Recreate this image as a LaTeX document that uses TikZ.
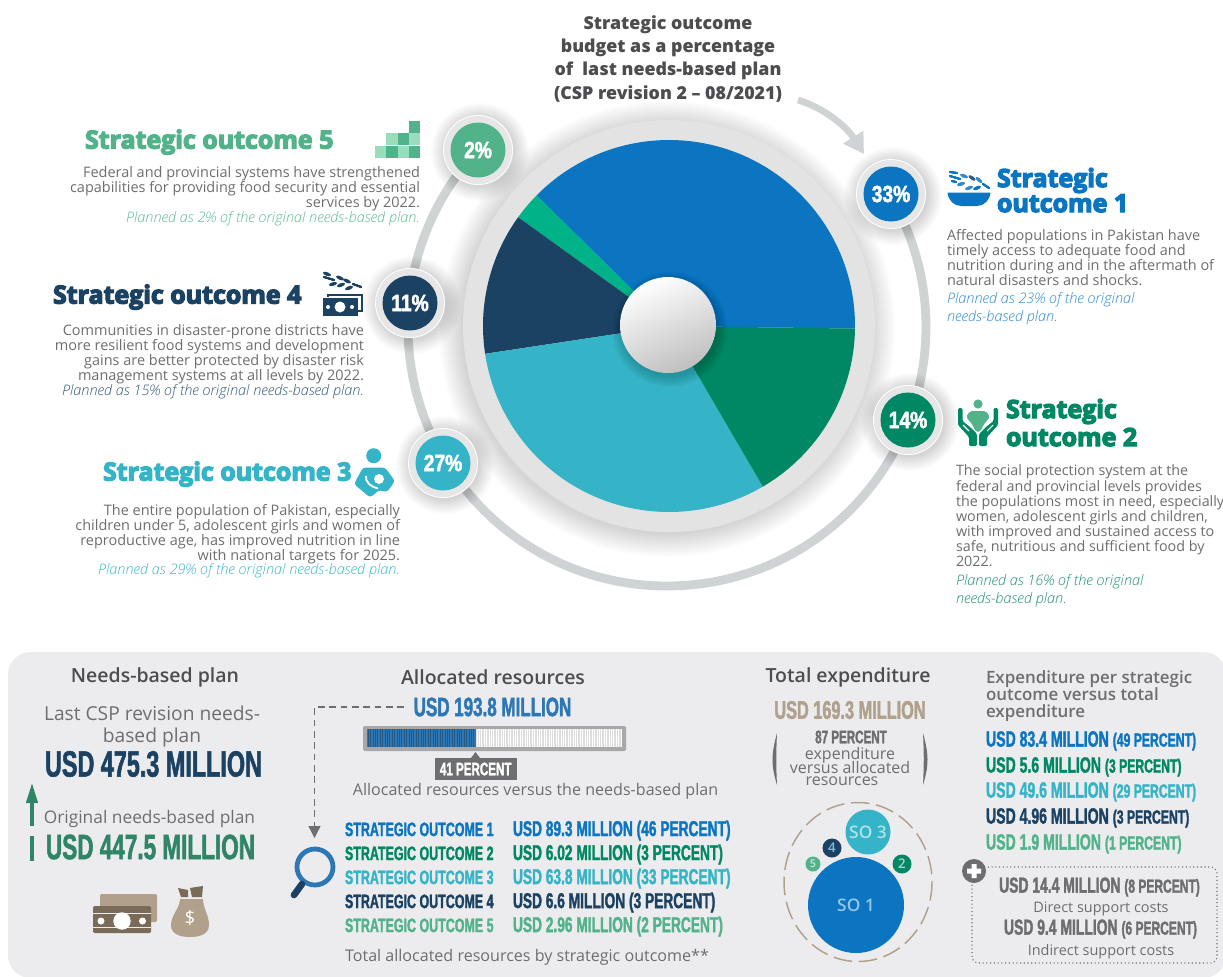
\documentclass[tikz,border=0pt]{standalone}
\usepackage{fontspec}
\usetikzlibrary{arrows.meta}
\setmainfont{Open Sans}
\newfontfamily\condf[FakeStretch=0.64,FakeBold=1.5]{Liberation Sans Bold}
\newfontfamily\pctf[FakeStretch=0.82,FakeBold=2]{Liberation Sans Bold}
\newfontfamily\heavyf[FakeBold=5]{Open Sans Bold}
\newfontfamily\semif{Open Sans Semibold}
\newfontfamily\lightf{Open Sans Light}
\definecolor{cA}{HTML}{0B75C2}
\definecolor{cB}{HTML}{008763}
\definecolor{cC}{HTML}{34B4C6}
\definecolor{cD}{HTML}{1B4263}
\definecolor{cE}{HTML}{52B38A}
\definecolor{cF}{HTML}{00B287}
\definecolor{cL}{HTML}{9BDCBC}
\definecolor{cAi}{HTML}{2E8BD0}
\definecolor{cBi}{HTML}{1F9273}
\definecolor{cCi}{HTML}{3DB8CA}
\definecolor{cDi}{HTML}{36597A}
\definecolor{cEi}{HTML}{5EBB93}
\definecolor{cM}{HTML}{2E77B5}
\definecolor{cG}{HTML}{6D6E70}
\definecolor{cH}{HTML}{4D4D4F}
\definecolor{cT}{HTML}{B0A08C}
\definecolor{cN}{HTML}{7A6A58}
\definecolor{cR}{HTML}{D0D3D3}
\definecolor{cP}{HTML}{ECECEF}
\definecolor{cQ}{HTML}{2F8566}
\definecolor{cV}{HTML}{E6E6E7}
\newcommand\cn[1]{\fontsize{#1}{#1}\selectfont\condf}
\newcommand\softshadow[4]{\foreach \i in {0,1,...,13}{\fill[black,opacity=0.013] (#1,#2) circle[radius={#3+#4*\i/13}];}}
\newcommand\pieslice[3]{\fill[#1] (669,326) -- ++(#2:139.5pt) arc[start angle=#2,end angle=#3,radius=139.5pt] -- cycle;}
\newcommand\grain[4]{\fill[#4,rotate around={#3:(#1,#2)}] (#1,#2) ellipse[x radius=4.2,y radius=1.8];}
\newcommand\badge[5]{% name x y colour text
  \softshadow{#2+2}{#3+2}{35}{14}
  \fill[cV] (#2,#3) circle[radius=35];
  \draw[white,line width=0.6pt] (#2,#3) circle[radius=34.5];
  \fill[#4] (#2,#3) circle[radius=27.5];
  \node[lbl,text=white,font=\fontsize{17.6}{18}\selectfont\pctf] (#1) at (#2,#3) {#5};}
\tikzset{
  lbl/.style={inner sep=0pt,outer sep=0pt},
  body/.style={lbl,text=cG,font=\fontsize{10.85}{11.35}\selectfont},
  plan/.style={lbl,font=\fontsize{10.85}{11.35}\selectfont\lightf\itshape},
  headtxt/.style={lbl,font=\fontsize{18.75}{18.8}\selectfont\heavyf},
  paneltitle/.style={lbl,text=cH,font=\fontsize{14.6}{16}\selectfont\semif},
  panelsub/.style={lbl,text=cG,font=\fontsize{12.06}{13}\selectfont},
  socol/.style={lbl,anchor=mid west},
}
\begin{document}
\begin{tikzpicture}[x=0.75pt,y=-0.75pt]
\useasboundingbox (0,0) rectangle (1223,976);
\fill[white] (0,0) rectangle (1223,976);
% ---- central pie
\draw[cR,line width=6.6pt] (667,327) ++(137:194.25pt) arc[start angle=137,end angle=390.7,radius=194.25pt];
\softshadow{667}{329}{206}{22}
\fill[black!11] (669,326) circle[radius=206];
\pieslice{cA}{-0.8}{135.4}
\pieslice{cF}{135.4}{144.2}
\pieslice{cD}{144.2}{188.6}
\pieslice{cC}{188.6}{300.3}
\pieslice{cB}{300.3}{359.2}
\softshadow{670}{329}{48}{10}
\shade[top color=white,bottom color=black!25,shading angle=25] (668,325) circle[radius=48];
% ---- badges
\badge{pE}{478}{150}{cE}{2\%}
\badge{pD}{410}{303}{cD}{11\%}
\badge{pC}{443}{463}{cC}{27\%}
\badge{pA}{891}{194}{cA}{33\%}
\badge{pB}{908}{420}{cB}{14\%}
% ---- title and arrow
\node[lbl,text=cH,align=center,font=\fontsize{13.35}{17.5}\selectfont\semif\bfseries] (title) at (668,58.5)
  {Strategic outcome\\budget as a percentage\\of\ \ last needs-based plan\\(CSP revision 2 – 08/2021)};
\coordinate (arS) at (798,100);
\coordinate (arE) at (864,154);
\draw[cR,line width=5pt,-{Triangle[width=17pt,length=15pt]}] (arS) .. controls (824,108) and (846,126) .. (arE);
% ---- SO5
\node[headtxt,text=cE,anchor=mid west] (h5) at (85,145) {Strategic outcome 5};
\node[body,align=right,anchor=north east] (b5) at (420,166) {Federal and provincial systems have strengthened\\capabilities for providing food security and essential\\services by 2022.};
\node[plan,text=cEi,anchor=mid east] (i5) at (420,219) {Planned as 2\% of the original needs-based plan.};
\foreach \px/\py/\pc in {408.75/121/cE,386.25/133/cL,397.5/133/cE,408.75/133/cL,375/146/cL,386.25/146/cE,397.5/146/cL,408.75/146/cE}
  \fill[\pc] (\px,\py) rectangle ++(11.25,12.4);
% ---- SO4
\node[headtxt,text=cD,anchor=mid west] (h4) at (53,300) {Strategic outcome 4};
\node[body,align=right,anchor=north east] (b4) at (364,324) {Communities in disaster-prone districts have\\more resilient food systems and development\\gains are better protected by disaster risk\\management systems at all levels by 2022.};
\node[plan,text=cDi,anchor=mid east] (i4) at (364,392) {Planned as 15\% of the original needs-based plan.};
\foreach \gx/\gy/\gr in {327/274/-20,340/278/-25,347/281/-25,333/284/15,341/285/20,349/288/20}
  \grain{\gx}{\gy}{\gr}{cD}
\draw[cD,line width=1.3pt,line cap=round] (324,277) -- (334,280) (353,284) -- (361,287);
\draw[cD,line width=1.1pt] (328,297) -- (328,295) -- (362,295) -- (362,311) -- (358,311);
\fill[cD] (323,298) rectangle (358,316);
\fill[white] (340,307) circle[radius=5.5] (328,307) circle[radius=2] (352,307) circle[radius=2];
% ---- SO3
\node[headtxt,text=cC,anchor=mid west] (h3) at (103,477) {Strategic outcome 3};
\node[body,align=right,anchor=north east] (b3) at (400,504) {The entire population of Pakistan, especially\\children under 5, adolescent girls and women of\\reproductive age, has improved nutrition in line\\with national targets for 2025.};
\node[plan,text=cCi,anchor=mid east] (i3) at (400,571) {Planned as 29\% of the original needs-based plan.};
\fill[cC] (373.7,455.7) circle[radius=7.5];
\fill[cC,rounded corners=2.2pt] (363,467.5) -- (385,467.5) -- (395,481) -- (387,492) -- (378,490) -- (376,493) -- (370,497.5) -- (354,484) -- cycle;
\fill[white] (379,479) circle[radius=5];
\draw[white,line width=1.4pt] (366,476) .. controls (365,482) and (371,487) .. (378,488.5);
% ---- SO1
\node[headtxt,text=cA,anchor=north west,align=left] (h1) at (997,168) {Strategic\\outcome 1};
\node[body,align=left,anchor=north west] (b1) at (947,229) {Affected populations in Pakistan have\\timely access to adequate food and\\nutrition during and in the aftermath of\\natural disasters and shocks.};
\node[plan,text=cAi,anchor=mid west] (i1a) at (947,300) {Planned as 23\% of the original};
\node[plan,text=cAi,anchor=mid west] (i1b) at (947,318) {needs-based plan.};
\fill[cA] (947.5,192.5) -- (990.5,192.5) .. controls (990,200) and (984,206) .. (977,206) -- (961,206) .. controls (954,206) and (948,200) .. (947.5,192.5) -- cycle;
\foreach \gx/\gy/\gr/\gc in {964/176/-20/cAi,972/178/-35/cDi,979/180/-40/cAi,961/184/15/cAi,969/188/20/cAi,977/188/20/cA}
  \grain{\gx}{\gy}{\gr}{\gc}
\draw[cA,line width=1.3pt,line cap=round] (950,172) -- (957,173) (950,176) -- (960,179) (952,181) -- (956,182) (983,184) -- (989,188);
% ---- SO2
\node[headtxt,text=cB,anchor=north west,align=left,font=\fontsize{18.75}{21}\selectfont\heavyf] (h2) at (1006,399) {Strategic\\outcome 2};
\node[body,align=left,anchor=north west,font=\fontsize{10.75}{11.35}\selectfont] (b2) at (956,465) {The social protection system at the\\federal and provincial levels provides\\the populations most in need, especially\\women, adolescent girls and children,\\with improved and sustained access to\\safe, nutritious and sufficient food by\\2022.};
\node[plan,text=cBi,anchor=mid west] (i2a) at (956,582) {Planned as 16\% of the original};
\node[plan,text=cBi,anchor=mid west] (i2b) at (956,600) {needs-based plan.};
\fill[cE] (978,404) circle[radius=4.6];
\fill[cE,rounded corners=1.5pt] (970,411) -- (986,411) -- (990,417) -- (984,424) -- (980,432) -- (976,432) -- (972,424) -- (966,417) -- cycle;
\foreach \mx in {1,-1}
  \fill[cB,rounded corners=1pt,shift={(978,0)},xscale=\mx] (-20,408) -- (-15.5,408) -- (-15.5,421) -- (-8,427) -- (-1,434) -- (-1,446) -- (-9,446) -- (-9,437) -- (-20,425) -- cycle;
\draw[white,line width=0.8pt] (963,425) -- (969,431) (993,425) -- (987,431);
% ---- lower panel
\fill[cP] (8,652) [rounded corners=17pt] -- (1226,652) -- (1226,978) -- (8,978) -- cycle;
% needs-based plan
\node[paneltitle] (t1) at (155,677) {Needs-based plan};
\node[lbl,text=cG,align=center,font=\fontsize{14.4}{15.8}\selectfont] (t1b) at (152,726.5) {Last CSP revision needs-\\based plan};
\node[lbl,text=cD,font=\cn{27.4}] (v1) at (153.5,764) {USD 475.3 MILLION};
\coordinate (upS) at (32,826);
\coordinate (upE) at (32,783);
\draw[cQ,line width=2.4pt,-{Triangle[width=8.5pt,length=15pt]}] (upS) -- (upE);
\coordinate (upA) at (32,836);
\coordinate (upB) at (32,861);
\draw[cQ,line width=2.4pt] (upA) -- (upB);
\node[lbl,text=cG,font=\fontsize{13}{14}\selectfont] (t1c) at (149.5,819) {Original needs-based plan};
\node[lbl,text=cQ,font=\cn{26.4}] (v2) at (150.5,847) {USD 447.5 MILLION};
\fill[cT,rounded corners=1pt] (100,894) rectangle (157,922);
\fill[cN,rounded corners=1pt] (93,906) rectangle (151,933);
\draw[cP,line width=0.4pt] (93,913) -- (151,913) (93,927) -- (151,927);
\fill[white] (122,921) circle[radius=8.7] (101,921) circle[radius=3.5] (142.5,921) circle[radius=3.5];
\fill[cN] (178,888) -- (188,890) -- (188,897) -- (181,897) -- cycle (190,888) -- (196,887) -- (203,886) -- (202,897) -- (192,897) -- cycle;
\fill[cT] (180,899) -- (203,899) .. controls (203,908) and (209,915) .. (209,925) .. controls (209,933) and (202,937) .. (190,937) .. controls (178,937) and (171,933) .. (171,925) .. controls (171,915) and (180,908) .. (180,899) -- cycle;
\node[lbl,text=white,font=\fontsize{14}{14}\selectfont] (dol) at (190,918) {\$};
% allocated resources
\node[paneltitle] (t2) at (493,677) {Allocated resources};
\node[lbl,text=cM,font=\cn{19.9}] (v3) at (492.5,707) {USD 193.8 MILLION};
\coordinate (dS) at (404,707);
\coordinate (dC) at (314.5,707);
\coordinate (dE) at (314.5,838);
\draw[cG,line width=0.9pt,dash pattern=on 5pt off 3.5pt,-{Triangle[width=9pt,length=9pt]}] (dS) -- (dC) -- (dE);
\fill[black!34,rounded corners=1pt] (363,726) rectangle (626,751);
\fill[black!13] (367,729) rectangle (622,747);
\fill[cM] (367,729) rectangle (475.5,747);
\foreach \sx in {368,370.4,...,474} \draw[cD,opacity=.55,line width=0.4pt] (\sx,729) -- (\sx,747);
\foreach \sx in {477,479.4,...,622} \draw[white,line width=0.6pt] (\sx,729) -- (\sx,747);
\fill[cG] (435,758) rectangle (516.5,780);
\fill[cG] (471,758) -- (475.5,752) -- (480,758) -- cycle;
\node[lbl,text=white,font=\cn{13.6}] (v4) at (475.7,769) {41 PERCENT};
\node[panelsub] (t2b) at (535.5,791) {Allocated resources versus the needs-based plan};
\foreach \n/\yy/\cc/\aa in {1/832.5/cA/USD 89.3 MILLION (46 PERCENT),2/856.5/cB/USD 6.02 MILLION (3 PERCENT),3/880.5/cC/USD 63.8 MILLION (33 PERCENT),4/904.5/cD/USD 6.6 MILLION (3 PERCENT),5/928.5/cE/USD 2.96 MILLION (2 PERCENT)}{
  \node[socol,text=\cc,font=\cn{14.6}] (sl\n) at (345,\yy) {STRATEGIC OUTCOME \n};
  \node[socol,text=\cc,font=\cn{16.1}] (sr\n) at (513,\yy) {\aa};
}
\draw[cM,line width=3.6pt] (315,867) circle[radius=18];
\draw[cD,line width=5pt,line cap=round] (302,884) -- (294,895);
\node[panelsub] (t2c) at (527,957) {Total allocated resources by strategic outcome**};
% total expenditure
\node[paneltitle] (t3) at (848,677) {Total expenditure};
\node[lbl,text=cT,font=\cn{19.1}] (v5) at (850,710) {USD 169.3 MILLION};
\node[lbl,text=cG,font=\cn{13.6}] (v6) at (851,737) {87 PERCENT};
\node[lbl,text=cG,font=\fontsize{12}{12}\selectfont] (e1) at (850,755) {expenditure};
\node[lbl,text=cG,font=\fontsize{12}{12}\selectfont] (e2) at (850,767) {versus allocated};
\node[lbl,text=cG,font=\fontsize{12}{12}\selectfont] (e3) at (842,781) {resources};
\fill[cG] (777,733) .. controls (771,755) and (771,765) .. (777,785) .. controls (776,765) and (776,755) .. (777,733) -- cycle;
\fill[cG] (923,733) .. controls (929,755) and (929,765) .. (923,785) .. controls (924,765) and (924,755) .. (923,733) -- cycle;
\draw[cT,line width=1.1pt,dash pattern=on 14pt off 5pt] (858,882) ellipse[x radius=74,y radius=79.5];
\fill[cA] (856,905) circle[radius=48];
\node[lbl,text=cAi!50!white,font=\fontsize{13}{13}\selectfont\semif] (c1) at (856,905) {SO 1};
\fill[cC] (868,832) circle[radius=22.5];
\node[lbl,text=cC!40!white,font=\fontsize{13}{13}\selectfont\semif] (c3) at (868,832) {SO 3};
\fill[cD] (832,848) circle[radius=9.5];
\node[lbl,text=cAi!60!white,font=\fontsize{10}{10}\selectfont\semif] (c4) at (832,848) {4};
\fill[cE] (813,864) circle[radius=7.5];
\node[lbl,text=cE!30!white,font=\fontsize{8}{8}\selectfont\semif] (c5) at (813,864) {5};
\fill[cB] (902,864) circle[radius=9.5];
\node[lbl,text=cE!50!white,font=\fontsize{10}{10}\selectfont\semif] (c2) at (902,864) {2};
% expenditure per SO
\node[lbl,text=cG,align=left,anchor=north west,font=\fontsize{12.7}{12.75}\selectfont\semif] (t4) at (986,671) {Expenditure per strategic\\outcome versus total\\expenditure};
\foreach \m/\yy/\cc/\uu/\pp in {a/743/cA/USD 83.4 MILLION/(49 PERCENT),b/769/cB/USD 5.6 MILLION/(3 PERCENT),c/794/cC/USD 49.6 MILLION/(29 PERCENT),d/820/cD/USD 4.96 MILLION/(3 PERCENT),e/846/cE/USD 1.9 MILLION/(1 PERCENT)}
  \node[lbl,anchor=mid west,text=\cc,font=\cn{16.5}] (x\m) at (986,\yy) {\uu\ {\cn{14.3}\pp}};
\draw[cG,line width=0.8pt,dotted,rounded corners=5pt] (972,867) rectangle (1217,963);
\fill[cG] (974,871) circle[radius=12];
\fill[white] (971.5,864) rectangle (976.5,878) (967,868.5) rectangle (981,873.5);
\node[lbl,text=cG,font=\cn{16.3}] (y1) at (1099.5,887) {USD 14.4 MILLION {\cn{14.1}(8 PERCENT)}};
\node[lbl,text=cG,font=\fontsize{10.85}{11}\selectfont] (y1b) at (1101,909) {Direct support costs};
\node[lbl,text=cG,font=\cn{16.3}] (y2) at (1100.5,929) {USD 9.4 MILLION {\cn{14.1}(6 PERCENT)}};
\node[lbl,text=cG,font=\fontsize{10.85}{11}\selectfont] (y2b) at (1101,952) {Indirect support costs};
\end{tikzpicture}
\end{document}
